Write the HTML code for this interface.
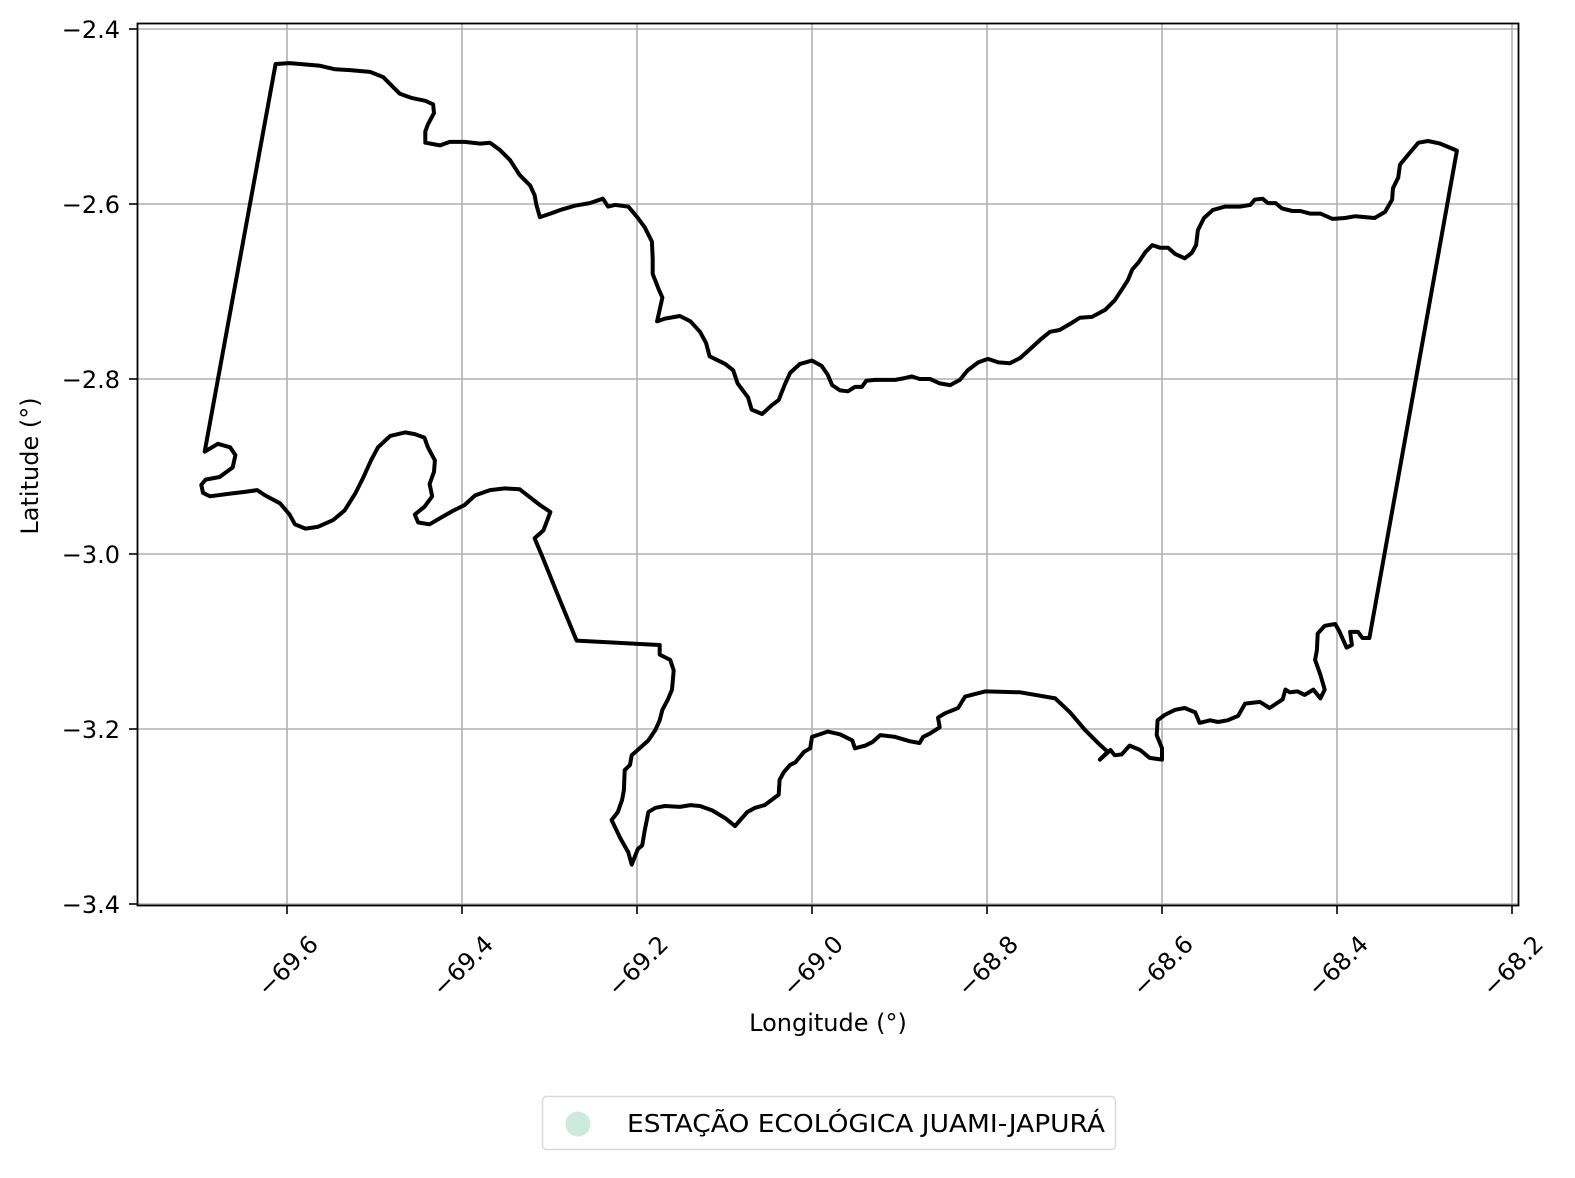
<!DOCTYPE html>
<html><head><meta charset="utf-8"><style>
html,body{margin:0;padding:0;background:#fff;}
svg text{font-family:"DejaVu Sans","Liberation Sans",sans-serif;fill:#000;}
</style></head><body>
<svg id="chart" width="1575" height="1173" viewBox="0 0 1575 1173" xmlns="http://www.w3.org/2000/svg">
<rect x="0" y="0" width="1575" height="1173" fill="#fff"/>
<g id="grid"></g>
<g id="shape"></g>
<rect x="137.5" y="23.5" width="1381" height="882" fill="none" stroke="#000" stroke-width="1.8"/>
<g id="xt"></g>
<g id="yt"></g>
<text x="828" y="1031" font-size="24" text-anchor="middle">Longitude (°)</text>
<text x="0" y="0" font-size="24" text-anchor="middle" transform="translate(38,466) rotate(-90)">Latitude (°)</text>
<g>
<rect x="542.5" y="1096.5" width="573" height="53" rx="4" fill="#fff" stroke="#d9d9d9" stroke-width="1.5"/>
<circle cx="578" cy="1124" r="12.5" fill="#cdeade"/>
<text x="627" y="1132" font-size="24.5" textLength="478" lengthAdjust="spacingAndGlyphs">ESTAÇÃO ECOLÓGICA JUAMI-JAPURÁ</text>
</g>
</svg>
<script>
const xTicks = [-69.6,-69.4,-69.2,-69.0,-68.8,-68.6,-68.4,-68.2];
const xTickLabels = ["−69.6","−69.4","−69.2","−69.0","−68.8","−68.6","−68.4","−68.2"];
const yTicks = [-2.4,-2.6,-2.8,-3.0,-3.2,-3.4];
const yTickLabels = ["−2.4","−2.6","−2.8","−3.0","−3.2","−3.4"];
const boundary = [
[-69.613,-2.440],[-69.597,-2.439],[-69.562,-2.442],[-69.545,-2.446],[-69.528,-2.447],[-69.505,-2.449],[-69.490,-2.455],[-69.480,-2.465],[-69.471,-2.474],[-69.457,-2.479],[-69.442,-2.482],[-69.433,-2.486],[-69.432,-2.496],[-69.439,-2.509],[-69.442,-2.517],[-69.442,-2.530],[-69.425,-2.533],[-69.414,-2.529],[-69.397,-2.529],[-69.379,-2.531],[-69.368,-2.530],[-69.357,-2.538],[-69.345,-2.550],[-69.334,-2.567],[-69.322,-2.579],[-69.317,-2.590],[-69.315,-2.601],[-69.311,-2.615],[-69.299,-2.611],[-69.288,-2.607],[-69.271,-2.602],[-69.254,-2.599],[-69.239,-2.594],[-69.233,-2.603],[-69.225,-2.601],[-69.210,-2.603],[-69.199,-2.616],[-69.191,-2.627],[-69.183,-2.643],[-69.182,-2.662],[-69.182,-2.680],[-69.175,-2.698],[-69.171,-2.707],[-69.177,-2.734],[-69.168,-2.731],[-69.151,-2.728],[-69.139,-2.734],[-69.128,-2.746],[-69.121,-2.759],[-69.117,-2.774],[-69.099,-2.783],[-69.090,-2.790],[-69.085,-2.805],[-69.073,-2.821],[-69.069,-2.835],[-69.057,-2.840],[-69.046,-2.830],[-69.038,-2.824],[-69.031,-2.806],[-69.025,-2.793],[-69.014,-2.783],[-69.000,-2.779],[-68.989,-2.785],[-68.982,-2.795],[-68.977,-2.807],[-68.968,-2.813],[-68.959,-2.814],[-68.951,-2.809],[-68.943,-2.809],[-68.938,-2.802],[-68.928,-2.801],[-68.917,-2.801],[-68.905,-2.801],[-68.894,-2.799],[-68.886,-2.797],[-68.877,-2.800],[-68.865,-2.800],[-68.854,-2.805],[-68.842,-2.807],[-68.831,-2.801],[-68.822,-2.790],[-68.810,-2.781],[-68.799,-2.777],[-68.787,-2.781],[-68.774,-2.782],[-68.762,-2.776],[-68.751,-2.766],[-68.739,-2.755],[-68.728,-2.746],[-68.717,-2.744],[-68.705,-2.737],[-68.694,-2.730],[-68.680,-2.729],[-68.665,-2.721],[-68.654,-2.710],[-68.646,-2.698],[-68.639,-2.687],[-68.634,-2.675],[-68.627,-2.667],[-68.619,-2.655],[-68.611,-2.647],[-68.602,-2.650],[-68.593,-2.650],[-68.585,-2.657],[-68.574,-2.662],[-68.566,-2.656],[-68.561,-2.647],[-68.559,-2.630],[-68.552,-2.616],[-68.542,-2.607],[-68.528,-2.603],[-68.511,-2.603],[-68.499,-2.601],[-68.494,-2.595],[-68.485,-2.594],[-68.479,-2.599],[-68.470,-2.599],[-68.463,-2.605],[-68.451,-2.608],[-68.442,-2.608],[-68.431,-2.611],[-68.419,-2.611],[-68.405,-2.617],[-68.391,-2.616],[-68.379,-2.614],[-68.368,-2.615],[-68.357,-2.616],[-68.345,-2.609],[-68.337,-2.595],[-68.336,-2.582],[-68.330,-2.570],[-68.328,-2.555],[-68.319,-2.544],[-68.307,-2.530],[-68.296,-2.528],[-68.282,-2.531],[-68.263,-2.539],
[-68.363,-3.096],[-68.371,-3.096],[-68.376,-3.089],[-68.385,-3.089],[-68.383,-3.104],[-68.389,-3.107],[-68.397,-3.089],[-68.402,-3.080],[-68.414,-3.082],[-68.422,-3.091],[-68.423,-3.110],[-68.425,-3.121],[-68.419,-3.138],[-68.414,-3.155],[-68.419,-3.165],[-68.427,-3.155],[-68.437,-3.161],[-68.445,-3.157],[-68.454,-3.158],[-68.459,-3.155],[-68.462,-3.166],[-68.477,-3.176],[-68.488,-3.169],[-68.505,-3.171],[-68.513,-3.185],[-68.525,-3.190],[-68.536,-3.192],[-68.545,-3.190],[-68.557,-3.193],[-68.562,-3.181],[-68.574,-3.176],[-68.585,-3.178],[-68.597,-3.184],[-68.605,-3.190],[-68.606,-3.207],[-68.600,-3.222],[-68.600,-3.235],[-68.614,-3.233],[-68.625,-3.224],[-68.637,-3.219],[-68.646,-3.229],[-68.654,-3.230],[-68.659,-3.224],[-68.671,-3.235],[-68.662,-3.226],[-68.671,-3.218],[-68.688,-3.201],[-68.705,-3.181],[-68.722,-3.165],[-68.762,-3.158],[-68.802,-3.157],[-68.825,-3.163],[-68.833,-3.176],[-68.848,-3.182],[-68.856,-3.187],[-68.854,-3.198],[-68.865,-3.205],[-68.873,-3.209],[-68.877,-3.216],[-68.888,-3.214],[-68.905,-3.209],[-68.922,-3.207],[-68.931,-3.215],[-68.939,-3.219],[-68.951,-3.222],[-68.954,-3.213],[-68.968,-3.206],[-68.982,-3.203],[-69.000,-3.209],[-69.002,-3.222],[-69.009,-3.226],[-69.019,-3.238],[-69.025,-3.241],[-69.032,-3.249],[-69.037,-3.258],[-69.038,-3.275],[-69.046,-3.281],[-69.054,-3.287],[-69.065,-3.290],[-69.074,-3.295],[-69.082,-3.304],[-69.088,-3.311],[-69.099,-3.302],[-69.114,-3.293],[-69.128,-3.288],[-69.139,-3.287],[-69.151,-3.289],[-69.168,-3.288],[-69.179,-3.290],[-69.187,-3.295],[-69.191,-3.315],[-69.194,-3.333],[-69.199,-3.337],[-69.206,-3.355],[-69.210,-3.341],[-69.219,-3.325],[-69.229,-3.304],[-69.222,-3.295],[-69.217,-3.281],[-69.215,-3.270],[-69.214,-3.247],[-69.208,-3.241],[-69.206,-3.230],[-69.197,-3.222],[-69.187,-3.213],[-69.179,-3.201],[-69.174,-3.190],[-69.171,-3.178],[-69.165,-3.167],[-69.160,-3.155],[-69.158,-3.133],[-69.162,-3.121],[-69.174,-3.115],[-69.174,-3.104],[-69.269,-3.099],[-69.288,-3.053],[-69.309,-3.001],[-69.317,-2.982],[-69.307,-2.973],[-69.299,-2.952],[-69.311,-2.944],[-69.325,-2.933],[-69.334,-2.926],[-69.351,-2.925],[-69.368,-2.927],[-69.385,-2.933],[-69.397,-2.944],[-69.411,-2.951],[-69.425,-2.959],[-69.437,-2.966],[-69.450,-2.964],[-69.454,-2.955],[-69.443,-2.946],[-69.434,-2.934],[-69.437,-2.920],[-69.432,-2.906],[-69.431,-2.893],[-69.439,-2.878],[-69.443,-2.867],[-69.454,-2.863],[-69.465,-2.861],[-69.482,-2.865],[-69.496,-2.878],[-69.504,-2.893],[-69.513,-2.913],[-69.522,-2.931],[-69.534,-2.950],[-69.547,-2.961],[-69.565,-2.969],[-69.579,-2.971],[-69.591,-2.966],[-69.597,-2.955],[-69.608,-2.942],[-69.625,-2.933],[-69.634,-2.927],[-69.648,-2.929],[-69.665,-2.931],[-69.688,-2.934],[-69.696,-2.930],[-69.698,-2.921],[-69.693,-2.915],[-69.677,-2.912],[-69.662,-2.901],[-69.659,-2.887],[-69.665,-2.878],[-69.679,-2.874],[-69.694,-2.883]
];
const NS = "http://www.w3.org/2000/svg";
const X0 = 137, X1 = 1519, Y0 = 23, Y1 = 906;
function xScale(lon){ return 287 + (lon + 69.6) * 875; }
function yScale(lat){ return 29 + (-2.4 - lat) * 875; }
function mk(tag, attrs, parent){ const e = document.createElementNS(NS, tag); for (const k in attrs) e.setAttribute(k, attrs[k]); parent.appendChild(e); return e; }
const grid = document.getElementById('grid'), xt = document.getElementById('xt'), yt = document.getElementById('yt');
xTicks.forEach((v,i)=>{
  const x = xScale(v);
  if (x < X1) {
    const g = mk('line',{x1:x,x2:x,y1:Y0,y2:Y1,stroke:'#b0b0b0','stroke-width':1.6},grid);
    
    
  }
  const t = mk('line',{x1:x,x2:x,y1:Y1,y2:Y1+8,stroke:'#000','stroke-width':1.6},xt);
  
  
  const l = mk('text',{x:0,y:0,'font-size':24,'text-anchor':'middle','dominant-baseline':'central',transform:`translate(${x+1},${966}) rotate(-45)`},xt);
  l.textContent = xTickLabels[i];
  
  
});
yTicks.forEach((v,i)=>{
  const y = yScale(v);
  const g = mk('line',{x1:X0,x2:X1,y1:y,y2:y,stroke:'#b0b0b0','stroke-width':1.6},grid);
  
  
  const t = mk('line',{x1:X0-8,x2:X0,y1:y,y2:y,stroke:'#000','stroke-width':1.6},yt);
  
  
  const l = mk('text',{x:X0-17,y:y+9,'font-size':24,'text-anchor':'end'},yt);
  l.textContent = yTickLabels[i];
  
  
});
const d = boundary.map((p,i)=>(i?'L':'M')+xScale(p[0]).toFixed(1)+' '+yScale(p[1]).toFixed(1)).join(' ')+' Z';
const path = mk('path',{d:d,fill:'none',stroke:'#000','stroke-width':4,'stroke-linejoin':'round'},document.getElementById('shape'));


</script>
</body></html>
